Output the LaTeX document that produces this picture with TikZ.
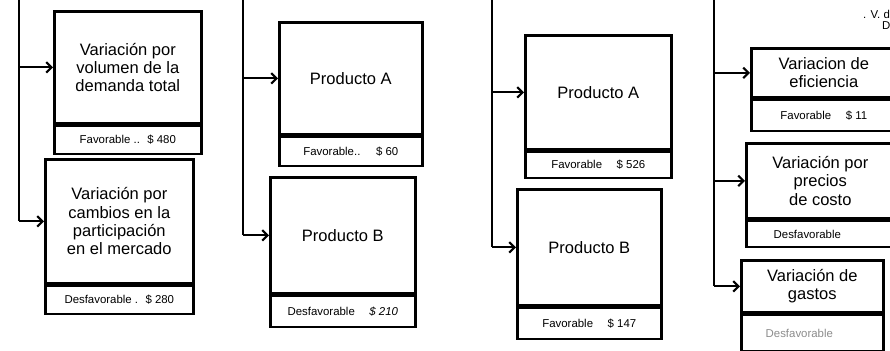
\documentclass[tikz,border=0pt]{standalone}
\usepackage{fontspec}
\setmainfont{Liberation Sans}
\usetikzlibrary{arrows.meta,positioning}

\begin{document}
\begin{tikzpicture}[x=0.02cm,y=-0.02cm,
  varbox/.style={draw,line width=1.5pt,anchor=north west,inner sep=2pt,align=center,
    font=\fontsize{9.4}{10.4}\selectfont},
  footbox/.style={draw,line width=1.5pt,anchor=north west,inner sep=1pt,
    font=\fontsize{6.5}{7}\selectfont},
  trunk/.style={line width=1.2pt},
  conn/.style={line width=1.2pt,-{Straight Barb[length=3pt,width=6pt]}}]
\def\px{0.02cm}
\useasboundingbox (0,0) rectangle (890,351);
\clip (0,0) rectangle (890,351);

% column 1: demanda
\node[varbox,minimum width=147*\px,minimum height=112*\px] (vol) at (53,10)
  {Variación por\\volumen de la\\demanda total};
\node[footbox,minimum width=147*\px,minimum height=28*\px] (volF) at (vol.south west)
  {Favorable .. \ \$ 480};
\node[varbox,minimum width=148*\px,minimum height=124*\px] (part) at (44,158)
  {Variación por\\cambios en la\\participación\\en el mercado};
\node[footbox,minimum width=148*\px,minimum height=28*\px] (partF) at (part.south west)
  {Desfavorable . \ \$ 280};
\coordinate (t1) at (19,-5);
\draw[trunk] (t1) -- (t1 |- part.west);
\draw[conn] (t1 |- vol.west) -- (vol.west);
\draw[conn] (t1 |- part.west) -- (part.west);

% column 2
\node[varbox,minimum width=143*\px,minimum height=112*\px] (prA) at (278,21) {Producto A};
\node[footbox,minimum width=143*\px,minimum height=29*\px] (prAF) at (prA.south west)
  {Favorable.. \quad \$ 60};
\node[varbox,minimum width=145*\px,minimum height=116*\px] (prB) at (269,176) {Producto B};
\node[footbox,minimum width=145*\px,minimum height=31*\px] (prBF) at (prB.south west)
  {Desfavorable \quad \textit{\$ 210}};
\coordinate (t2) at (243,-5);
\draw[trunk] (t2) -- (t2 |- prB.west);
\draw[conn] (t2 |- prA.west) -- (prA.west);
\draw[conn] (t2 |- prB.west) -- (prB.west);

% column 3
\node[varbox,minimum width=146*\px,minimum height=114*\px] (cpA) at (524,34) {Producto A};
\node[footbox,minimum width=146*\px,minimum height=26*\px] (cpAF) at (cpA.south west)
  {Favorable \quad \$ 526};
\node[varbox,minimum width=144*\px,minimum height=116*\px] (cpB) at (516,188) {Producto B};
\node[footbox,minimum width=144*\px,minimum height=31*\px] (cpBF) at (cpB.south west)
  {Favorable \quad \$ 147};
\coordinate (t3) at (492,-5);
\draw[trunk] (t3) -- (t3 |- cpB.west);
\draw[conn] (t3 |- cpA.west) -- (cpA.west);
\draw[conn] (t3 |- cpB.west) -- (cpB.west);

% column 4: costos
\node[font=\fontsize{6.5}{7}\selectfont,anchor=west] (cvTop) at (857,14) {. V. d};
\node[font=\fontsize{6.5}{7}\selectfont,anchor=west] (cvSub) at (876,26) {D};
\node[varbox,minimum width=145*\px,minimum height=49*\px] (efi) at (750,47)
  {Variacion de\\eficiencia};
\node[footbox,minimum width=145*\px,minimum height=31*\px] (efiF) at (efi.south west)
  {Favorable \quad \$ 11};
\node[varbox,minimum width=148*\px,minimum height=75*\px] (prec) at (745,142)
  {Variación por\\precios\\de costo};
\node[footbox,minimum width=148*\px,minimum height=26*\px] (precF) at (prec.south west)
  {Desfavorable \qquad\quad};
\node[varbox,minimum width=142*\px,minimum height=52*\px] (gas) at (740,259)
  {Variación de\\gastos};
\node[footbox,minimum width=142*\px,minimum height=36*\px,text=black!45] (gasF) at (gas.south west)
  {Desfavorable \qquad\quad};
\coordinate (t4) at (714,-5);
\draw[trunk] (t4) -- (t4 |- gas.west);
\draw[conn] (t4 |- efi.west) -- (efi.west);
\draw[conn] (t4 |- prec.west) -- (prec.west);
\draw[conn] (t4 |- gas.west) -- (gas.west);
\end{tikzpicture}
\end{document}
